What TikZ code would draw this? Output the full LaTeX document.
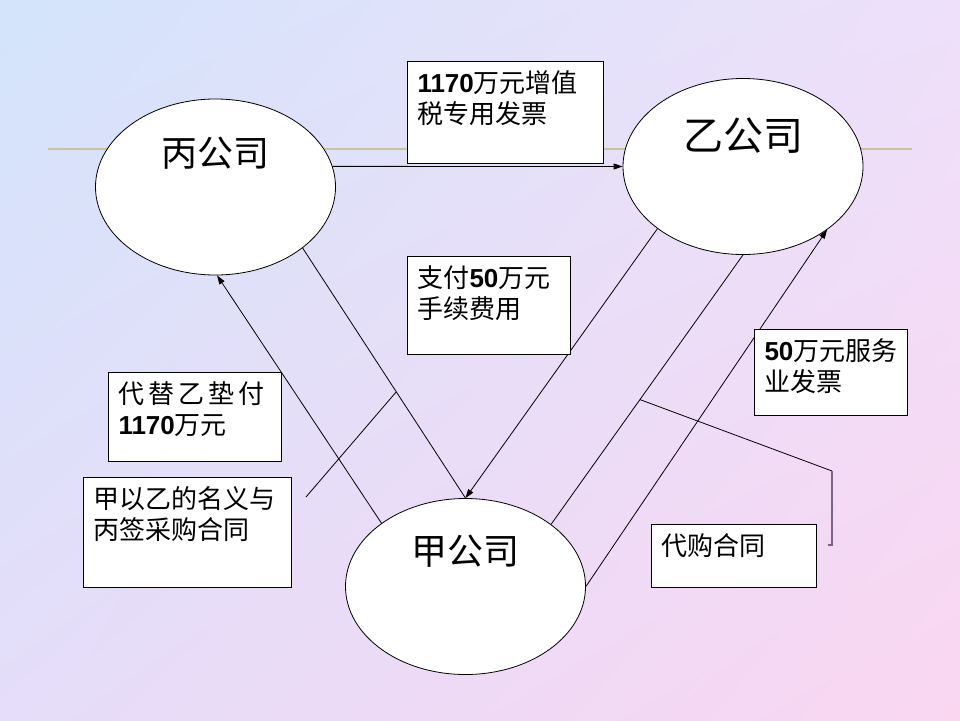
\documentclass[tikz,border=0pt]{standalone}
\usepackage{fontspec}
\setmainfont{Noto Sans CJK SC}
\newfontfamily\numfont{Liberation Sans}
\usetikzlibrary{arrows.meta,shapes.geometric,shadings}

\definecolor{bgtl}{RGB}{211,228,251}
\definecolor{bgtr}{RGB}{238,224,250}
\definecolor{bgbl}{RGB}{229,221,249}
\definecolor{bgbr}{RGB}{250,214,241}
\definecolor{rulecol}{RGB}{200,195,158}
\definecolor{bracketcol}{RGB}{120,100,130}

\newcommand\numb[1]{{\numfont\bfseries #1}}
\newcommand\notetext[3]{\begin{minipage}[t][#2][t]{#1}\raggedright #3\end{minipage}}

\tikzset{
  company/.style={draw, ellipse, fill=white, line width=0.8pt, minimum width=240pt, minimum height=176pt, inner sep=0pt},
  note/.style={draw, fill=white, line width=1pt, anchor=north west, inner xsep=10pt, inner ysep=9pt, font=\fontsize{26}{31}\selectfont},
  flow/.style={line width=0.8pt, -{Triangle[length=9pt,width=6pt]}},
  link/.style={line width=0.8pt},
}

\begin{document}
\begin{tikzpicture}[x=1pt, y=-1pt]
\useasboundingbox (0,0) rectangle (960,720);
\shade[upper left=bgtl, upper right=bgtr, lower left=bgbl, lower right=bgbr] (0,0) rectangle (960,720);
\draw[rulecol, line width=2.5pt] (48,149) -- (912,149);

% companies
\node[company, font=\fontsize{36}{36}\selectfont, text height=30pt, text depth=72pt] (bing) at (215.5,187) {丙公司};
\node[company, font=\fontsize{40}{40}\selectfont, text height=33pt, text depth=66pt] (yi) at (743,166.5) {乙公司};
\node[company, font=\fontsize{36}{36}\selectfont, text height=30pt, text depth=74pt] (jia) at (465.5,586.5) {甲公司};

% flows between the companies
\draw[flow] (bing.10) -- (yi.west);
\draw[flow] (jia.143) -- (bing.271);
\draw[link] (bing.325) -- coordinate[pos=0.575] (buy) (jia.north);
\draw[flow] (yi.216) -- (jia.north);
\draw[link] (yi.south) -- coordinate[pos=0.537] (agent) (jia.36);
\draw[flow] (jia.east) -- (yi.323);

% callouts
\coordinate (pur tail) at (306,497);
\coordinate (agent bend) at (832,471);
\coordinate (agent foot) at (832,545);
\draw[link] (pur tail) -- (buy);
\draw[link] (agent) -- (agent bend);
\draw[bracketcol, line width=1.2pt] (agent bend) -- (agent foot) -- ++(-4,0);

% notes
\node[note] (vat) at (407,61) {\notetext{176pt}{84pt}{\numb{1170}万元增值\\税专用发票}};
\node[note] (fee) at (407,256) {\notetext{143pt}{80pt}{支付\numb{50}万元\\手续费用}};
\node[note] (svc) at (754,329) {\notetext{133pt}{68pt}{\numb{50}万元服务\\业发票}};
\node[note] (adv) at (108,372) {\notetext{153pt}{71pt}{代\hspace{4pt}替\hspace{4pt}乙\hspace{4pt}垫\hspace{4pt}付\\\numb{1170}万元}};
\node[note] (pur) at (83,477) {\notetext{188pt}{92pt}{甲以乙的名义与\\丙签采购合同}};
\node[note] (agc) at (651,524) {\notetext{145pt}{45pt}{代购合同}};
\end{tikzpicture}
\end{document}
